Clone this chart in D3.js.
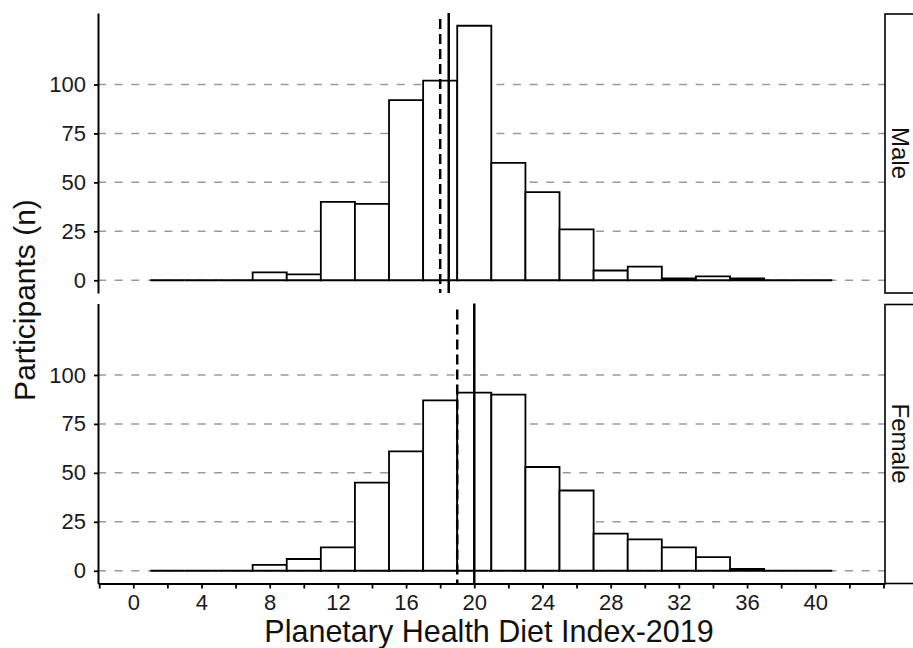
<!DOCTYPE html>
<html>
<head>
<meta charset="utf-8">
<script src="https://cdn.jsdelivr.net/npm/d3@7"></script>
<style>
  body { margin: 0; background: #fff; }
  svg { display: block; font-family: "Liberation Sans", Arial, sans-serif; }
</style>
</head>
<body>
<svg id="chart" width="913" height="648"></svg>
<script>
// Histogram bins (width 2), left edges
const binStarts = [1, 3, 5, 7, 9, 11, 13, 15, 17, 19, 21, 23, 25, 27, 29, 31, 33, 35, 37, 39];
const binWidth = 2;

// Counts per bin
const maleCounts = [0, 0, 0, 4, 3, 40, 39, 92, 102, 130, 60, 45, 26, 5, 7, 1, 2, 1, 0, 0];
const femaleCounts = [0, 0, 0, 3, 6, 12, 45, 61, 87, 91, 90, 53, 41, 19, 16, 12, 7, 1, 0, 0];

// Reference lines (dashed / solid) per panel
const dashedAt = [18, 19];
const solidAt = [18.5, 20];

const panelLabels = ["Male", "Female"];
const xTicks = [-2, 0, 2, 4, 6, 8, 10, 12, 14, 16, 18, 20, 22, 24, 26, 28, 30, 32, 34, 36, 38, 40, 42, 44];
const xLabels = [0, 4, 8, 12, 16, 20, 24, 28, 32, 36, 40];
const yTicks = [0, 25, 50, 75, 100];

const svg = d3.select("#chart");
const left = 98;
const right = 885;
const panelHeight = 280;
const panelTops = [13, 303.5];

const x = d3.scaleLinear().domain([-2.07, 44.09]).range([left, right]);

const panels = panelLabels.map((label, i) => ({
  label,
  counts: i === 0 ? maleCounts : femaleCounts,
  dashed: dashedAt[i],
  solid: solidAt[i],
  top: panelTops[i],
}));

panels.forEach((p, i) => {
  const y = d3.scaleLinear().domain([-6.5, 136.5]).range([p.top + panelHeight, p.top]);
  const g = svg.append("g");

  // dashed grid lines
  g.selectAll("line.grid")
    .data(yTicks)
    .enter()
    .append("line")
    .attr("class", "grid")
    .attr("x1", left)
    .attr("x2", right)
    .attr("y1", d => y(d))
    .attr("y2", d => y(d))
    .attr("stroke", "#9a9a9a")
    .attr("stroke-width", 1.5)
    .attr("stroke-dasharray", "8,8.6");

  // bars (paths so empty bins still draw a flat line)
  g.selectAll("path.bar")
    .data(binStarts.map((b, j) => ({ x0: b, x1: b + binWidth, n: p.counts[j] })))
    .enter()
    .append("path")
    .attr("class", "bar")
    .attr("d", d => `M${x(d.x0)},${y(0)}V${y(d.n)}H${x(d.x1)}V${y(0)}Z`)
    .attr("fill", "#fff")
    .attr("stroke", "#000")
    .attr("stroke-width", 1.8);

  // reference lines
  g.append("line")
    .attr("x1", x(p.dashed))
    .attr("x2", x(p.dashed))
    .attr("y1", p.top + 6)
    .attr("y2", p.top + panelHeight)
    .attr("stroke", "#000")
    .attr("stroke-width", 2.5)
    .attr("stroke-dasharray", "10,5");
  g.append("line")
    .attr("x1", x(p.solid))
    .attr("x2", x(p.solid))
    .attr("y1", p.top)
    .attr("y2", p.top + panelHeight)
    .attr("stroke", "#000")
    .attr("stroke-width", 2.5);

  // y axis
  const yAxis = g.append("g")
    .attr("transform", `translate(${left},0)`)
    .call(d3.axisLeft(y).tickValues(yTicks).tickSize(4).tickSizeOuter(0).tickPadding(8))
    .attr("font-family", null)
    .attr("font-size", 22);
  yAxis.select(".domain").attr("stroke-width", 2);
  yAxis.selectAll(".tick line").attr("stroke-width", 1.8);
  yAxis.selectAll("text").attr("fill", "#1a1a1a");

  // strip on the right
  g.append("rect")
    .attr("x", right)
    .attr("y", p.top + 1)
    .attr("width", 40)
    .attr("height", panelHeight - 1)
    .attr("fill", "#fff")
    .attr("stroke", "#000")
    .attr("stroke-width", 1.6);
  g.append("text")
    .attr("transform", `translate(${900},${p.top + panelHeight / 2}) rotate(90)`)
    .attr("text-anchor", "middle")
    .attr("dy", "0.35em")
    .attr("font-size", 24)
    .attr("fill", "#111")
    .text(p.label);

  // x axis only on the bottom panel
  if (i === panels.length - 1) {
    const xAxis = g.append("g")
      .attr("transform", `translate(0,${p.top + panelHeight})`)
      .call(
        d3.axisBottom(x)
          .tickValues(xTicks)
          .tickSize(5)
          .tickSizeOuter(0)
          .tickPadding(6)
          .tickFormat(d => (xLabels.includes(d) ? d : ""))
      )
      .attr("font-family", null)
      .attr("font-size", 22);
    xAxis.select(".domain").attr("stroke-width", 2);
    xAxis.selectAll(".tick line").attr("stroke-width", 1.8);
    xAxis.selectAll("text").attr("fill", "#1a1a1a");
  }
});

// axis titles
svg.append("text")
  .attr("transform", "translate(35,300) rotate(-90)")
  .attr("text-anchor", "middle")
  .attr("font-size", 30)
  .attr("fill", "#111")
  .text("Participants (n)");

svg.append("text")
  .attr("x", 489)
  .attr("y", 642)
  .attr("text-anchor", "middle")
  .attr("font-size", 30.5)
  .attr("fill", "#111")
  .text("Planetary Health Diet Index-2019");
</script>
</body>
</html>
